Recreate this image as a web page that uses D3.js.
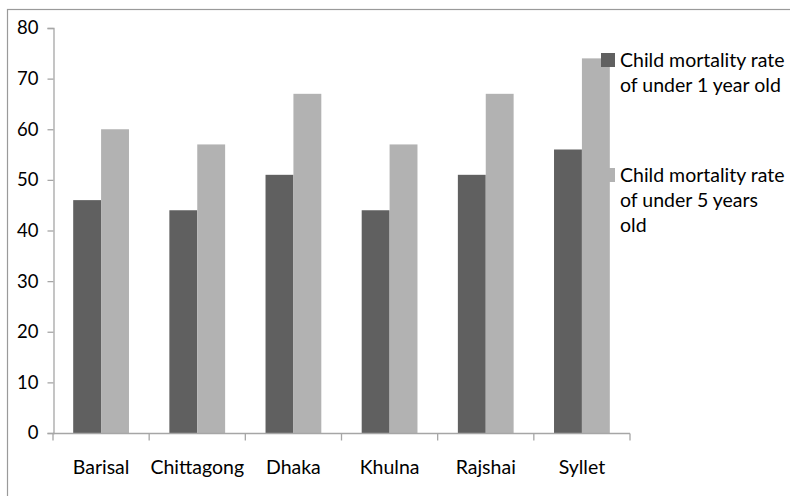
<!DOCTYPE html>
<html>
<head>
<meta charset="utf-8">
<script src="https://cdn.jsdelivr.net/npm/d3@7"></script>
<style>
  html, body { margin: 0; padding: 0; background: #fff; }
  svg { display: block; font-family: Lato, "Open Sans", sans-serif; }
</style>
</head>
<body>
<svg id="chart" width="790" height="496"></svg>
<script>
// Child mortality rates by division
const divisions = ["Barisal", "Chittagong", "Dhaka", "Khulna", "Rajshai", "Syllet"];
const under1 = [46, 44, 51, 44, 51, 56];
const under5 = [60, 57, 67, 57, 67, 74];
const yTicks = [0, 10, 20, 30, 40, 50, 60, 70, 80];

const colors = ["#606060", "#b2b2b2"];
const axisColor = "#a6a6a6";

const svg = d3.select("#chart");

// outer frame
svg.append("rect")
  .attr("x", 7.5).attr("y", 9.5)
  .attr("width", 800).attr("height", 500)
  .attr("fill", "none").attr("stroke", "#9a9a9a").attr("stroke-width", 1.2);

const plot = { left: 53, right: 630, top: 28, bottom: 433 };

const x = d3.scaleBand().domain(divisions).range([plot.left, plot.right]).paddingInner(0).paddingOuter(0);
const y = d3.scaleLinear().domain([0, 80]).range([plot.bottom, plot.top]);
const barW = x.bandwidth() * 0.29;

const series = [under1, under5];

// bars
series.forEach((vals, si) => {
  svg.append("g").selectAll("rect")
    .data(divisions.map((d, i) => ({ d, v: vals[i] })))
    .join("rect")
    .attr("x", p => x(p.d) + x.bandwidth() / 2 - barW + si * barW)
    .attr("y", p => y(p.v))
    .attr("width", barW)
    .attr("height", p => y(0) - y(p.v))
    .attr("fill", colors[si]);
});

// y axis
const yAxis = svg.append("g")
  .attr("transform", `translate(${plot.left + 0.5},0)`)
  .call(d3.axisLeft(y).tickValues(yTicks).tickSize(6).tickPadding(9).tickFormat(d3.format("d")));
yAxis.select(".domain").attr("stroke", axisColor).attr("stroke-width", 1.3);
yAxis.selectAll(".tick line").attr("stroke", axisColor).attr("stroke-width", 1.3);
yAxis.selectAll(".tick text").attr("fill", "#000").attr("font-size", 18.5)
  .attr("font-family", "Lato, 'Open Sans', sans-serif");

// x axis with ticks at category boundaries
const xAxisG = svg.append("g").attr("transform", `translate(0,${plot.bottom + 0.5})`);
xAxisG.append("line")
  .attr("x1", plot.left).attr("x2", plot.right)
  .attr("stroke", axisColor).attr("stroke-width", 1.3);
const boundaries = divisions.map(d => x(d)).concat([plot.right]);
xAxisG.selectAll("line.tk").data(boundaries).join("line")
  .attr("class", "tk")
  .attr("x1", d => d).attr("x2", d => d)
  .attr("y1", 0).attr("y2", 7)
  .attr("stroke", axisColor).attr("stroke-width", 1.3);
xAxisG.selectAll("text").data(divisions).join("text")
  .attr("x", d => x(d) + x.bandwidth() / 2)
  .attr("y", 40)
  .attr("text-anchor", "middle")
  .attr("font-size", 19.5)
  .attr("fill", "#000")
  .text(d => d);

// legend
const legendLines = [
  ["Child mortality rate", "of under 1 year old"],
  ["Child mortality rate", "of under 5 years", "old"]
];
const legendTop = [53, 168];
legendLines.forEach((lines, i) => {
  const g = svg.append("g").attr("transform", `translate(601,${legendTop[i]})`);
  g.append("rect").attr("x", 0).attr("y", 0).attr("width", 14).attr("height", 14).attr("fill", colors[i]);
  g.append("text")
    .attr("font-size", 19.5).attr("fill", "#000")
    .selectAll("tspan").data(lines).join("tspan")
    .attr("x", 19)
    .attr("y", (d, j) => 14 + j * 25)
    .text(d => d);
});
</script>
</body>
</html>
